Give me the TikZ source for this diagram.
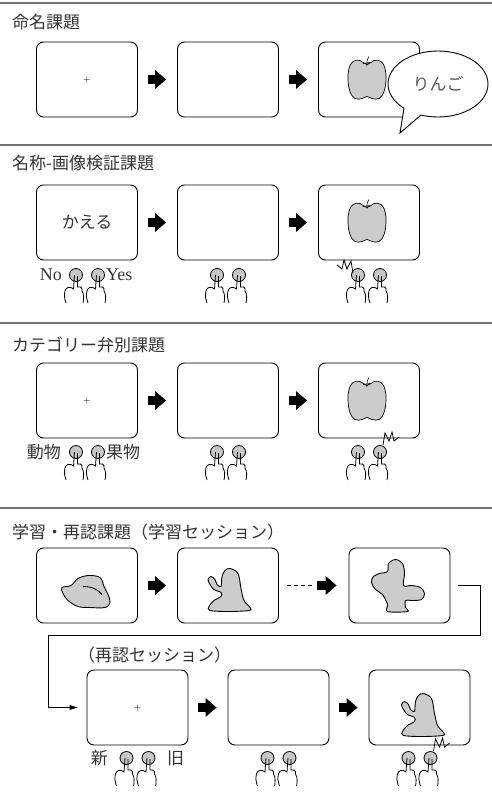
\documentclass[tikz,border=0pt]{standalone}
\usepackage{fontspec}
\usepackage{tikz}
\usetikzlibrary{arrows.meta, shapes.geometric}

\newfontfamily\jpfont{Noto Sans CJK JP}
\newfontfamily\latinfont{Liberation Serif}

\tikzset{
    screen/.style={draw, rounded corners=7pt, minimum width=101pt, minimum height=75pt,
        line width=0.9pt, inner sep=0pt},
    jp/.style={font=\jpfont\fontsize{17}{20}\selectfont, text=black!80, inner sep=0pt},
    title/.style={jp, anchor=west},
    latin/.style={font=\latinfont\fontsize{18}{20}\selectfont, text=black!80, inner sep=0pt},
    fixcross/.style={font=\fontsize{10}{10}\selectfont},
    rule/.style={line width=1.4pt, black!55},
    bigarrow/.style={line width=9pt, -{Triangle[length=11pt, width=19pt, line width=0pt]},
        shorten <=10pt, shorten >=11pt},
    flow/.style={line width=0.9pt, -{Triangle[length=8pt, width=5pt, line width=0pt]}},
    bubble/.style={draw, ellipse, fill=white, line width=0.9pt, minimum width=100pt,
        minimum height=66pt, inner sep=0pt, font=\jpfont\fontsize{17}{20}\selectfont, text=black!65},
    blob/.style={fill=black!20, draw, line width=0.9pt},
    apple/.pic={
        \filldraw[blob, line width=0.7pt] plot[smooth cycle, tension=0.7] coordinates {(0,-15) (7,-19)
            (14,-18) (18,-11) (19,0) (17,12) (12,19) (5,19) (0,17) (-5,19) (-12,19) (-17,12) (-19,0)
            (-18,-11) (-14,-18) (-7,-19)};
        \draw[line width=0.6pt] (2,-23) .. controls (0,-20) .. (0,-14);
        \draw[line width=0.6pt] (-4,-16) -- (3,-17);
    },
    hat/.pic={
        \filldraw[blob] plot[smooth cycle, tension=0.6] coordinates {(-25,2) (-16,0) (-9,-7) (1,-10)
            (13,-8) (17,1) (21,9) (23,17) (18,22) (3,22) (-9,21) (-19,15) (-24,8)};
        \draw[line width=0.8pt] (-4,1) .. controls (5,1) and (11,4) .. (15,9);
    },
    ghost/.pic={
        \filldraw[blob] plot[smooth cycle, tension=0.55] coordinates {(2,-17) (10,-12) (13,3) (16,15)
            (22,22) (21,25) (0,26) (-18,25) (-19,21) (-14,15) (-7,11) (-7,7) (-14,4) (-18,-1)
            (-20,-6) (-17,-9) (-13,-6) (-11,-1) (-7,1) (-6,-9) (-3,-15)};
    },
    mitten/.pic={
        \filldraw[blob] plot[smooth cycle, tension=0.55] coordinates {(-12,-14) (-11,-22) (-4,-26)
            (3,-22) (5,-12) (4,0) (12,0) (21,2) (25,8) (22,14) (12,15) (6,15) (6,22) (8,26)
            (-12,26) (-12,19) (-17,9) (-24,4) (-28,-3) (-26,-9) (-20,-12)};
    },
    press/.pic={
        \filldraw[fill=black!22, line width=0.8pt] (0,0) circle (6.5);
        \draw[line width=0.8pt] (-1.5,0) .. controls (-2,7) .. (-2.5,14)
            .. controls (-6,11) and (-10,12) .. (-11,16) .. controls (-12,21) .. (-10,28);
        \draw[line width=0.8pt] (1.5,1) -- (1.5,12) .. controls (4,11) and (6.5,12) .. (6,16)
            .. controls (8,19) and (8,24) .. (7,28);
    },
    zap/.pic={
        \draw[line width=0.8pt] (3,-7) -- (5,-19) -- (9,-11) -- (12,-20) -- (14,-11) -- (19,-15);
    }
}

\begin{document}
\begin{tikzpicture}[x=1pt, y=-1pt]
    \useasboundingbox (0,0) rectangle (492,804);

    \foreach \y in {3,145,323,508}
        \draw[rule] (0,\y) -- (492,\y);

    % naming
    \node[title] (t1) at (12,22) {命名課題};
    \node[screen, fixcross] (a1) at (87,79.5) {+};
    \node[screen] (a2) at (228,79.5) {};
    \node[screen] (a3) at (369,79.5) {};
    \draw[bigarrow] (a1) -- (a2);
    \draw[bigarrow] (a2) -- (a3);
    \pic at ([xshift=-2pt]a3.center) {apple};
    \node[bubble] (say) at (438,84) {りんご};
    \fill[white] (404,108.2) -- (400,133) -- (421,115) -- (430,100) -- (410,100) -- cycle;
    \draw[line width=0.9pt] (404,108.2) -- (400,133) -- (421,115);

    % name-picture verification
    \node[title] (t2) at (12,163) {名称-画像検証課題};
    \node[screen, jp] (b1) at (87,222.5) {かえる};
    \node[screen] (b2) at (228,222.5) {};
    \node[screen] (b3) at (369,222.5) {};
    \draw[bigarrow] (b1) -- (b2);
    \draw[bigarrow] (b2) -- (b3);
    \pic at ([xshift=-2pt]b3.center) {apple};
    \foreach \x in {87,228,369} {
        \pic at (\x-11,275) {press};
        \pic at (\x+11,275) {press};
    }
    \node[latin, anchor=east] (no) at (62,275) {No};
    \node[latin, anchor=west] (yes) at (106,275) {Yes};
    \pic[xscale=-1] at (356,280) {zap};

    % category
    \node[title] (t3) at (12,345) {カテゴリー弁別課題};
    \node[screen, fixcross] (c1) at (87,400.5) {+};
    \node[screen] (c2) at (228,400.5) {};
    \node[screen] (c3) at (369,400.5) {};
    \draw[bigarrow] (c1) -- (c2);
    \draw[bigarrow] (c2) -- (c3);
    \pic at ([xshift=-2pt]c3.center) {apple};
    \foreach \x in {87,228,369} {
        \pic at (\x-11,452) {press};
        \pic at (\x+11,452) {press};
    }
    \node[jp, anchor=east] (animal) at (61,452) {動物};
    \node[jp, anchor=west] (fruit) at (106,452) {果物};
    \pic at (380,452) {zap};

    % learning / recognition
    \node[title] (t4) at (12,532) {学習・再認課題（学習セッション）};
    \node[screen] (l1) at (87,585.5) {};
    \node[screen] (l2) at (228,585.5) {};
    \node[screen] (l3) at (399.5,585.5) {};
    \pic at (l1.center) {hat};
    \pic at (l2.center) {ghost};
    \pic at (l3.center) {mitten};
    \draw[bigarrow] (l1) -- (l2);
    \draw[line width=0.8pt, dash pattern=on 4pt off 3pt, shorten <=8pt, shorten >=36pt] (l2) -- (l3);
    \draw[bigarrow, shorten <=38pt, shorten >=12pt] (l2) -- (l3);

    \node[jp, anchor=west] (t5) at (78,655) {（再認セッション）};
    \node[screen, fixcross] (r1) at (137.5,707.5) {+};
    \node[screen] (r2) at (278.5,707.5) {};
    \node[screen] (r3) at (419.5,707.5) {};
    \draw[bigarrow] (r1) -- (r2);
    \draw[bigarrow] (r2) -- (r3);
    \pic at ([xshift=2pt, yshift=-3pt]r3.center) {ghost};

    \coordinate (turnR) at (480,635);
    \coordinate (turnL) at (48,635);
    \draw[flow, shorten <=8pt, shorten >=9pt] (l3.east) -| (turnR) -- (turnL) |- (r1.west);

    \foreach \x in {137.5,278.5,419.5} {
        \pic at (\x-11,758) {press};
        \pic at (\x+11,758) {press};
    }
    \node[jp, anchor=east] (new) at (108,758) {新};
    \node[jp, anchor=west] (old) at (167,758) {旧};
    \pic at (430.5,758) {zap};
\end{tikzpicture}
\end{document}
